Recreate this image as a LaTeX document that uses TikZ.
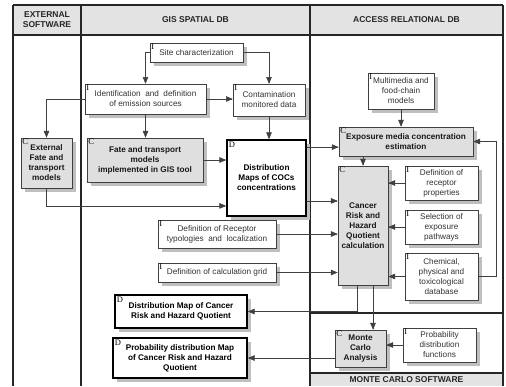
\documentclass[tikz,border=0pt]{standalone}
\usepackage{fontspec}
\setmainfont{Liberation Sans}
\newfontfamily\tagfont{Liberation Serif}
\usetikzlibrary{arrows,shadows,calc}

\tikzset{
  lane/.style={line width=2.2pt, draw=black!85},
  head/.style={font=\fontsize{8.5}{10}\selectfont\bfseries, align=center, text=black!85},
  sz/.style 2 args={minimum width=#1pt, minimum height=#2pt},
  tag/.style={anchor=north west, inner sep=1.5pt, font=\tagfont\fontsize{8.5}{9}\selectfont, text=black},
  base/.style={draw=black!75, align=center, inner sep=1pt, text=black!80,
    drop shadow={shadow xshift=3.5pt, shadow yshift=-3.5pt, fill=black!25, opacity=1}},
  inbox/.style={base, fill=white, line width=0.6pt,
    font=\fontsize{8.2}{10}\selectfont, label={[tag]north west:I}},
  calcbox/.style={base, fill=gray!25, line width=0.8pt, text=black!90,
    font=\fontsize{8.2}{10}\selectfont\bfseries, label={[tag]north west:C}},
  outbox/.style={base, fill=white, line width=1.8pt, draw=black, text=black,
    font=\fontsize{8.2}{10}\selectfont\bfseries, label={[tag, inner sep=2.5pt]north west:D}},
  link/.style={->, line width=0.5pt, draw=black!75},
}

\begin{document}
\begin{tikzpicture}[x=1pt, y=-1pt, >=triangle 45]
  \useasboundingbox (0,0) rectangle (506,386);
  % lanes
  \fill[gray!22] (13,5) rectangle (503,35);
  \fill[gray!22] (310,373) rectangle (503,386);
  \draw[lane] (13,5) -- (503,5);
  \draw[lane] (13,35) -- (503,35);
  \draw[lane, line width=1.6pt] (13,5) -- (13,386);
  \draw[lane, line width=2.8pt] (81,5) -- (81,386);
  \draw[lane, line width=2.8pt] (310,5) -- (310,386);
  \draw[lane, line width=1.6pt] (503,5) -- (503,386);
  \draw[lane] (310,313) -- (503,313);
  \draw[lane] (310,373) -- (503,373);
  \node[head] (hext) at (47,20) {EXTERNAL\\SOFTWARE};
  \node[head] (hgis) at (195.5,20) {GIS SPATIAL DB};
  \node[head] (hacc) at (406.5,20) {ACCESS RELATIONAL DB};
  \node[head] (hmc) at (406.5,380) {MONTE CARLO SOFTWARE};

  % GIS spatial DB
  \node[inbox, sz={93}{19}] (site) at (196.5,52.5) {Site characterization};
  \node[inbox, sz={121}{30}] (ident) at (145.5,99) {Identification \ and \ definition\\of emission sources};
  \node[inbox, sz={72}{32}] (contam) at (269,100) {Contamination\\monitored data};
  \node[calcbox, sz={116}{44}] (fate) at (145,160) {Fate and transport\\models\\implemented in GIS tool};
  \node[outbox, sz={79}{76}] (dist) at (266.5,178) {Distribution\\Maps of COCs\\concentrations};
  \node[inbox, sz={118}{28}] (recep) at (217,234) {Definition of Receptor\\typologies \ and \ localization};
  \node[inbox, sz={118}{19}] (grid) at (217,272.5) {Definition of calculation grid};
  \node[outbox, sz={132}{33}] (distmap) at (181,311.5) {Distribution Map of Cancer\\Risk and Hazard Quotient};
  \node[outbox, sz={134}{40}] (probmap) at (180,358) {Probability distribution Map\\of Cancer Risk and Hazard\\Quotient};

  % external software
  \node[calcbox, sz={51}{50}] (extfate) at (46.5,163) {External\\Fate and\\transport\\models};

  % Access relational DB
  \node[inbox, sz={66}{36}] (multi) at (401,91) {Multimedia and\\food-chain\\models};
  \node[calcbox, sz={134}{29}] (expo) at (406,141.5) {Exposure media concentration\\estimation};
  \node[calcbox, sz={50}{119}] (cancer) at (363,225.5) {Cancer\\Risk and\\Hazard\\Quotient\\calculation};
  \node[inbox, sz={73}{34}] (recprop) at (441.5,183) {Definition of\\receptor\\properties};
  \node[inbox, sz={73}{34}] (selpath) at (441.5,227) {Selection of\\exposure\\pathways};
  \node[inbox, sz={73}{47}] (chem) at (441.5,276.5) {Chemical,\\physical and\\toxicological\\database};

  % Monte Carlo software
  \node[calcbox, sz={51}{37}] (mc) at (360.5,348.5) {Monte\\Carlo\\Analysis};
  \node[inbox, sz={73}{34}] (prob) at (439.5,345) {Probability\\distribution\\functions};

  % connectors
  \coordinate (d1) at ([yshift=-8pt]dist.north east);
  \coordinate (d2) at ([yshift=16pt]dist.south east);
  \coordinate (e1) at ($(dist.south west)+(0,-11)$);
  \coordinate (c1) at ([xshift=-6pt]cancer.south);
  \coordinate (c2) at ([xshift=10pt]cancer.south);
  \draw[link] (site.west) -| (ident.north); % site -> sources
  \draw[link] (site.east) -| (contam.north); % site -> monitored
  \draw[link] (ident.east) -- (ident.east -| contam.west); % sources -> monitored
  \draw[link] (ident.south) -- (ident.south |- fate.north); % sources -> fate GIS
  \draw[link] (ident.west) -| (extfate.north); % sources -> external fate
  \draw[link] (contam.south) -- (contam.south |- dist.north); % monitored -> maps
  \draw[link] (fate.east) -- (fate.east -| dist.west); % fate GIS -> maps
  \draw[link] (extfate.south) |- (e1); % external fate -> maps
  \draw[link] (d1) -- (d1 -| expo.west); % maps -> exposure
  \draw[link] (d2) -- (d2 -| cancer.west); % maps -> cancer
  \draw[link] (recep.east) -- (recep.east -| cancer.west); % typologies -> cancer
  \draw[link] (grid.east) -- (grid.east -| cancer.west); % grid -> cancer
  \draw[link] (multi.south) -- (multi.south |- expo.north); % multimedia -> exposure
  \draw[link] (cancer.north |- expo.south) -- (cancer.north); % exposure -> cancer
  \draw[link] (recprop.west) -- (recprop.west -| cancer.east); % properties -> cancer
  \draw[link] (selpath.west) -- (selpath.west -| cancer.east); % pathways -> cancer
  \draw[link] (chem.west) -- (chem.west -| cancer.east); % database -> cancer
  \draw[link] (chem.east) -- ++(18,0) |- (expo.east); % database -> exposure
  \draw[link] (c1) |- (distmap.east); % cancer -> map of risk
  \draw[link] (c2) -- (c2 |- mc.north); % cancer -> monte carlo
  \draw[link] (prob.west) -- (prob.west -| mc.east); % functions -> monte carlo
  \draw[link] (probmap.east -| mc.west) -- (probmap.east); % monte carlo -> probability map
\end{tikzpicture}
\end{document}
